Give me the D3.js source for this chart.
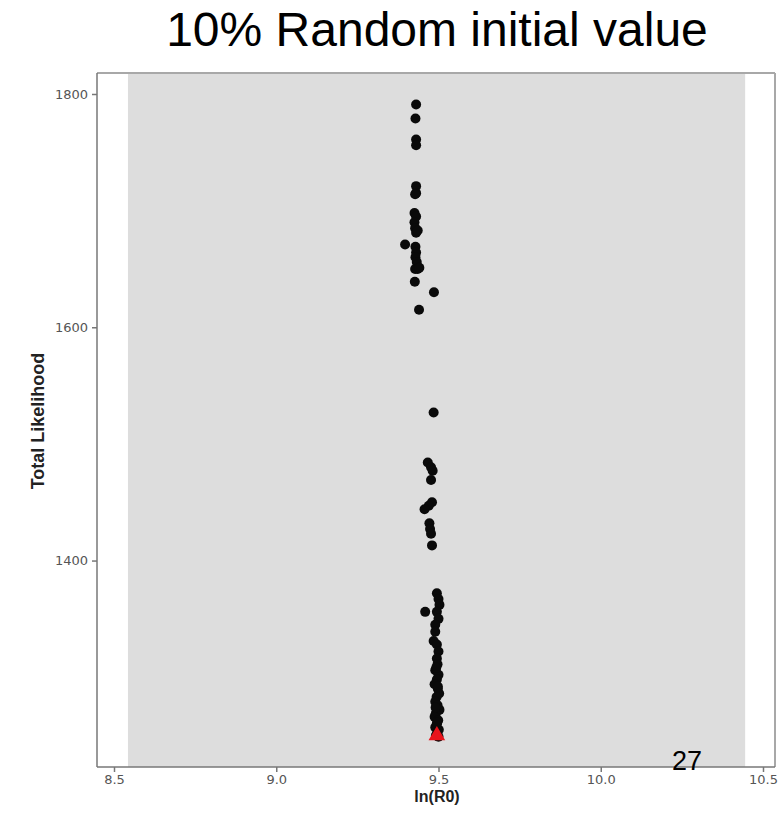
<!DOCTYPE html>
<html>
<head>
<meta charset="utf-8">
<script src="https://cdn.jsdelivr.net/npm/d3@7/dist/d3.min.js"></script>
<style>
  html, body { margin: 0; padding: 0; background: #fff; }
  svg { display: block; }
</style>
</head>
<body>
<svg id="chart" width="779" height="829"></svg>
<script>
// ---- Data ----
const titleText = "10% Random initial value";
const xLabel = "ln(R0)";
const yLabel = "Total Likelihood";
const pageNumber = "27";
const xTicks = [8.5, 9.0, 9.5, 10.0, 10.5];
const yTicks = [1400, 1600, 1800];
const xDomain = [8.4476, 10.537];
const yDomain = [1223, 1818];
const shadeRange = [8.543, 10.445];

// upper cluster
const topX = [9.431, 9.429, 9.431, 9.431, 9.431, 9.431, 9.428, 9.426, 9.431, 9.426, 9.428, 9.431, 9.436, 9.397, 9.429, 9.431, 9.429, 9.433, 9.428, 9.436, 9.441, 9.427, 9.486, 9.440];
const topY = [1791, 1779, 1761, 1756, 1721, 1715, 1714, 1698, 1695, 1690, 1685, 1681, 1683, 1671, 1669, 1664, 1660, 1656, 1650, 1650, 1651, 1639, 1630, 1615];
// middle cluster
const midX = [9.485, 9.467, 9.477, 9.482, 9.477, 9.480, 9.470, 9.457, 9.472, 9.474, 9.477, 9.480];
const midY = [1527, 1484, 1480, 1477, 1469, 1450, 1447, 1444, 1432, 1427, 1423, 1413];
// lower column
const lowX = [9.495, 9.500, 9.503, 9.459, 9.495, 9.500, 9.490, 9.490, 9.485, 9.495, 9.500, 9.495, 9.497, 9.490, 9.500, 9.495, 9.488, 9.498, 9.502, 9.494, 9.490, 9.497, 9.503, 9.492, 9.488, 9.499, 9.495, 9.490, 9.501, 9.496, 9.492, 9.500, 9.493, 9.498, 9.491, 9.496];
const lowY = [1372, 1367, 1362, 1356, 1356, 1350, 1345, 1339, 1331, 1328, 1322, 1316, 1311, 1306, 1302, 1298, 1294, 1290, 1286, 1283, 1279, 1276, 1272, 1269, 1266, 1263, 1260, 1257, 1255, 1252, 1250, 1249, 1308, 1292, 1274, 1261];
// best fit (red triangle)
const bestX = [9.495];
const bestY = [1250];

// ---- Layout ----
const plot = { left: 97, right: 775, top: 73, bottom: 767 };

const svg = d3.select("#chart");
const x = d3.scaleLinear().domain(xDomain).range([plot.left, plot.right]);
const y = d3.scaleLinear().domain(yDomain).range([plot.bottom, plot.top]);

// gray panel
svg.append("rect")
  .attr("x", x(shadeRange[0]))
  .attr("y", plot.top)
  .attr("width", x(shadeRange[1]) - x(shadeRange[0]))
  .attr("height", plot.bottom - plot.top)
  .attr("fill", "#dddddd");

// frame top/right
svg.append("line").attr("x1", plot.left).attr("x2", plot.right).attr("y1", plot.top).attr("y2", plot.top)
  .attr("stroke", "#a8a8a8").attr("stroke-width", 2);
svg.append("line").attr("x1", plot.right).attr("x2", plot.right).attr("y1", plot.top).attr("y2", plot.bottom)
  .attr("stroke", "#a8a8a8").attr("stroke-width", 2);

// axes
const xAxis = d3.axisBottom(x).tickValues(xTicks).tickFormat(d3.format(".1f")).tickSizeOuter(0).tickSize(5).tickPadding(3);
const yAxis = d3.axisLeft(y).tickValues(yTicks).tickFormat(d3.format("d")).tickSizeOuter(0).tickSize(5).tickPadding(4);

const gx = svg.append("g").attr("transform", `translate(0,${plot.bottom})`).call(xAxis);
const gy = svg.append("g").attr("transform", `translate(${plot.left},0)`).call(yAxis);
[gx, gy].forEach(g => {
  g.select(".domain").attr("stroke", "#777").attr("stroke-width", 1.5);
  g.selectAll(".tick line").attr("stroke", "#777").attr("stroke-width", 1.5);
  g.selectAll(".tick text").attr("fill", "#555").attr("font-family", "DejaVu Sans, sans-serif").attr("font-size", 13);
});
gx.select(".domain").attr("d", `M${plot.left},0H${plot.right}`);
gy.select(".domain").attr("d", `M0,${plot.top}V${plot.bottom}`);

// points
const pts = [];
[[topX, topY], [midX, midY], [lowX, lowY]].forEach(([xs, ys]) => xs.forEach((v, i) => pts.push([v, ys[i]])));
svg.append("g").selectAll("circle").data(pts).join("circle")
  .attr("cx", d => x(d[0])).attr("cy", d => y(d[1])).attr("r", 5)
  .attr("fill", "#0a0a0a");

svg.append("g").selectAll("path").data(bestX.map((v, i) => [v, bestY[i]])).join("path")
  .attr("d", d3.symbol().type(d3.symbolTriangle).size(120))
  .attr("transform", d => `translate(${x(d[0])},${y(d[1])})`)
  .attr("fill", "#e8141c");

// title & labels
svg.append("text").attr("x", 437).attr("y", 46).attr("text-anchor", "middle")
  .attr("font-family", "Liberation Sans, Arial, sans-serif").attr("font-size", 48).attr("fill", "#000")
  .text(titleText);

svg.append("text").attr("x", (plot.left + plot.right) / 2 + 1).attr("y", 802).attr("text-anchor", "middle")
  .attr("font-family", "Liberation Sans, Arial, sans-serif").attr("font-size", 16).attr("font-weight", "bold").attr("fill", "#222")
  .text(xLabel);

svg.append("text").attr("transform", `translate(44,421) rotate(-90)`).attr("text-anchor", "middle")
  .attr("font-family", "Liberation Sans, Arial, sans-serif").attr("font-size", 18).attr("font-weight", "bold").attr("fill", "#222")
  .text(yLabel);

svg.append("text").attr("x", 687).attr("y", 770).attr("text-anchor", "middle")
  .attr("font-family", "Liberation Sans, Arial, sans-serif").attr("font-size", 27).attr("fill", "#000")
  .text(pageNumber);
</script>
</body>
</html>
